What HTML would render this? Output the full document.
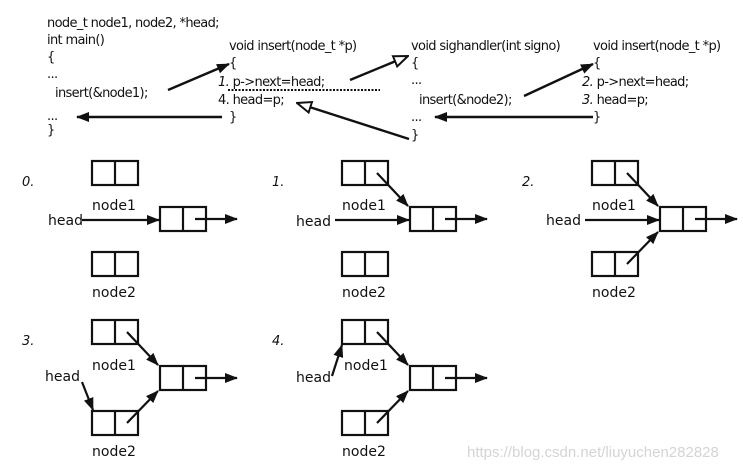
<!DOCTYPE html>
<html><head><meta charset="utf-8"><style>
html,body{margin:0;padding:0;background:#fff;}
svg{display:block;}
text{font-family:"DejaVu Sans","Liberation Sans",sans-serif;fill:#111;}
.c{font-size:13px;letter-spacing:-0.65px;}
.l{font-size:14px;}
.n{font-size:13px;font-style:italic;}
</style></head><body>
<svg width="743" height="470" viewBox="0 0 743 470" xmlns="http://www.w3.org/2000/svg">
<defs>
<marker id="f" markerWidth="13" markerHeight="12" refX="12" refY="6" orient="auto" markerUnits="userSpaceOnUse"><path d="M0,1 L13,6 L0,11 z" fill="#111"/></marker>
<marker id="o" markerWidth="16" markerHeight="14" refX="15" refY="7" orient="auto" markerUnits="userSpaceOnUse"><path d="M1,1.5 L15,7 L1,12.5 z" fill="#fff" stroke="#111" stroke-width="2"/></marker>
<g id="box"><rect x="0" y="0" width="46" height="24" fill="none" stroke="#111" stroke-width="2.2"/><line x1="23" y1="0" x2="23" y2="24" stroke="#111" stroke-width="2.2"/></g>
</defs>
<g class="c">
<text x="47" y="27">node_t node1, node2, *head;</text>
<text x="47" y="44">int main()</text>
<text x="47" y="61">{</text>
<text x="47" y="78">...</text>
<text x="55" y="97">insert(&amp;node1);</text>
<text x="47" y="120">...</text>
<text x="47" y="134">}</text>
<text x="229" y="50">void insert(node_t *p)</text>
<text x="229" y="67">{</text>
<text x="218" y="86"><tspan font-style="italic">1.</tspan>  p-&gt;next=head;</text>
<text x="218" y="104">4.  head=p;</text>
<text x="229" y="121">}</text>
<text x="411" y="50">void sighandler(int signo)</text>
<text x="411" y="67">{</text>
<text x="411" y="84">...</text>
<text x="419" y="104">insert(&amp;node2);</text>
<text x="411" y="121">...</text>
<text x="411" y="139">}</text>
<text x="593" y="50">void insert(node_t *p)</text>
<text x="593" y="67">{</text>
<text x="582" y="86"><tspan font-style="italic">2.</tspan>  p-&gt;next=head;</text>
<text x="582" y="104"><tspan font-style="italic">3.</tspan>  head=p;</text>
<text x="593" y="121">}</text>
</g>
<line x1="228" y1="90" x2="380" y2="90" stroke="#111" stroke-width="2" stroke-dasharray="2,1.5"/>
<g stroke="#111" stroke-width="2.4" fill="none">
<line x1="168" y1="90" x2="229" y2="64" marker-end="url(#f)"/>
<line x1="222" y1="117" x2="77" y2="117" marker-end="url(#f)"/>
<line x1="350" y1="80" x2="408" y2="56" marker-end="url(#o)"/>
<line x1="409" y1="139" x2="297" y2="103" marker-end="url(#o)"/>
<line x1="524" y1="96" x2="593" y2="64" marker-end="url(#f)"/>
<line x1="593" y1="117" x2="435" y2="117" marker-end="url(#f)"/>
</g>
<g class="l">
<g transform="translate(0,0)">
<text class="n" x="22" y="186">0.</text>
<use href="#box" x="92" y="161"/><use href="#box" x="160" y="207"/><use href="#box" x="92" y="252"/>
<text x="92" y="210">node1</text><text x="92" y="297">node2</text><text x="48" y="225">head</text>
<g stroke="#111" stroke-width="2.2"><line x1="82" y1="220" x2="159" y2="220" marker-end="url(#f)"/><line x1="195" y1="219" x2="237" y2="219" marker-end="url(#f)"/></g>
</g>
<g transform="translate(250,0)">
<text class="n" x="22" y="186">1.</text>
<use href="#box" x="92" y="161"/><use href="#box" x="160" y="207"/><use href="#box" x="92" y="252"/>
<text x="92" y="210">node1</text><text x="92" y="297">node2</text><text x="46" y="226">head</text>
<g stroke="#111" stroke-width="2.2"><line x1="85" y1="220" x2="159" y2="220" marker-end="url(#f)"/><line x1="195" y1="219" x2="237" y2="219" marker-end="url(#f)"/><line x1="127" y1="173" x2="158" y2="206" marker-end="url(#f)"/></g>
</g>
<g transform="translate(500,0)">
<text class="n" x="22" y="186">2.</text>
<use href="#box" x="92" y="161"/><use href="#box" x="160" y="207"/><use href="#box" x="92" y="252"/>
<text x="92" y="210">node1</text><text x="92" y="297">node2</text><text x="46" y="225">head</text>
<g stroke="#111" stroke-width="2.2"><line x1="85" y1="220" x2="159" y2="220" marker-end="url(#f)"/><line x1="195" y1="219" x2="237" y2="219" marker-end="url(#f)"/><line x1="127" y1="173" x2="158" y2="206" marker-end="url(#f)"/><line x1="127" y1="264" x2="158" y2="232" marker-end="url(#f)"/></g>
</g>
<g transform="translate(0,159)">
<text class="n" x="22" y="186">3.</text>
<use href="#box" x="92" y="161"/><use href="#box" x="160" y="207"/><use href="#box" x="92" y="252"/>
<text x="92" y="211">node1</text><text x="92" y="297">node2</text><text x="45" y="222">head</text>
<g stroke="#111" stroke-width="2.2"><line x1="195" y1="219" x2="237" y2="219" marker-end="url(#f)"/><line x1="127" y1="173" x2="158" y2="206" marker-end="url(#f)"/><line x1="127" y1="264" x2="158" y2="232" marker-end="url(#f)"/><line x1="82" y1="223" x2="93" y2="251" marker-end="url(#f)"/></g>
</g>
<g transform="translate(250,159)">
<text class="n" x="22" y="186">4.</text>
<use href="#box" x="92" y="161"/><use href="#box" x="160" y="207"/><use href="#box" x="92" y="252"/>
<text x="94" y="211">node1</text><text x="92" y="297">node2</text><text x="46" y="223">head</text>
<g stroke="#111" stroke-width="2.2"><line x1="195" y1="219" x2="237" y2="219" marker-end="url(#f)"/><line x1="127" y1="173" x2="158" y2="206" marker-end="url(#f)"/><line x1="127" y1="264" x2="158" y2="232" marker-end="url(#f)"/><line x1="82" y1="217" x2="92" y2="186" marker-end="url(#f)"/></g>
</g>
</g>
<text x="467" y="457" font-size="15" style="fill:#d4d4d4;font-family:'Liberation Sans',sans-serif">https://blog.csdn.net/liuyuchen282828</text>
</svg>
</body></html>
